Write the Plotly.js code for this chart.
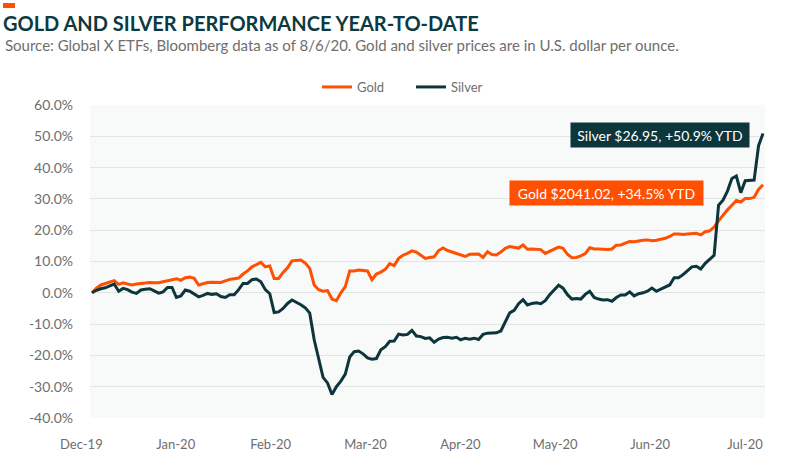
<!DOCTYPE html>
<html>
<head>
<meta charset="utf-8">
<script src="https://cdn.plot.ly/plotly-3.0.1.min.js"></script>
<style>html,body{margin:0;padding:0;background:#fff;}#chart{width:800px;height:465px;}</style>
</head>
<body>
<div id="chart"></div>
<script>
// Year-to-date % change, one value per trading day (Dec 31 2019 .. Aug 6 2020)
const gold = [
  0, 1.5, 2.5, 3.0, 3.5, 3.9, 2.7, 3.2, 2.8, 2.5,
  2.8, 3.0, 3.2, 3.3, 3.2, 3.2, 3.5, 3.9, 4.3, 4.5,
  4.0, 4.8, 5.0, 4.6, 2.5, 3.0, 3.3, 3.4, 3.4, 3.3,
  3.8, 4.3, 4.5, 4.7, 6.0, 7.0, 8.3, 9.0, 9.7, 8.3,
  8.6, 4.6, 4.6, 6.5, 8.0, 10.2, 10.4, 10.5, 9.5, 7.8,
  2.5, 1.0, 0.5, 0.7, -2.0, -2.5, 0.0, 2.0, 7.0, 7.0,
  7.3, 7.2, 7.0, 4.2, 6.0, 6.6, 7.5, 9.3, 8.7, 11.0,
  12.0, 12.6, 13.4, 13.0, 12.0, 11.0, 11.3, 11.5, 13.5, 14.3,
  13.5, 13.0, 12.7, 12.0, 11.6, 12.3, 12.4, 12.4, 11.3, 13.1,
  12.2, 12.1, 13.0, 14.2, 14.8, 14.5, 14.3, 15.3, 13.9, 14.0,
  13.9, 13.8, 12.6, 13.3, 14.0, 14.6, 14.2, 12.3, 11.2, 11.3,
  11.8, 12.5, 14.4, 14.0, 14.0, 13.8, 13.8, 14.0, 15.2, 15.3,
  15.9, 16.4, 16.3, 16.6, 16.8, 16.9, 16.6, 16.8, 17.1, 17.4,
  18.0, 18.8, 18.8, 18.6, 18.8, 18.9, 19.0, 18.5, 19.5, 19.8,
  21.0, 23.0, 24.8, 26.5, 28.0, 29.5, 29.0, 30.1, 30.1, 30.5,
  33.0, 34.5
];
const silver = [
  0, 0.8, 1.3, 1.6, 2.2, 2.8, 0.5, 1.4, 1.0, 0.2,
  -0.2, 0.9, 1.1, 1.3, 0.6, -0.1, 0.3, 1.7, 1.7, -1.5,
  -1.0, 0.9, 0.5, -0.5, -1.3, -0.8, -0.2, -0.5, -0.3, -1.2,
  -1.5, -0.6, -0.6, 1.0, 3.0, 3.0, 4.2, 4.4, 3.5, 1.0,
  -0.3, -6.3, -6.1, -5.0, -3.4, -2.3, -3.0, -3.8, -4.8, -6.5,
  -15.0, -21.0, -27.0, -28.8, -32.5, -30.0, -28.2, -26.0, -20.5, -18.8,
  -18.6, -19.5, -20.8, -21.2, -21.0, -18.2, -17.2, -15.5, -15.4, -13.2,
  -13.5, -13.3, -12.0, -13.8, -14.0, -14.6, -14.4, -15.8, -14.8, -14.3,
  -14.2, -14.5, -14.2, -15.0, -14.5, -14.8, -14.5, -14.9, -13.3, -12.9,
  -12.8, -12.8, -12.2, -9.5, -6.4, -5.6, -3.5, -2.2, -3.9, -3.4,
  -3.2, -3.5, -2.5, -0.6, 1.0, 2.4, 1.5, -0.6, -2.0, -1.8,
  -2.0, -0.5, 0.5, -1.5, -2.0, -2.3, -2.2, -2.7, -1.5, -0.7,
  -0.7, 0.3, -1.0, -0.3, 0.0, 0.5, 1.5, 0.5, 1.2, 1.8,
  2.5, 4.8, 4.8, 5.8, 7.0, 8.3, 8.5, 7.6, 9.4, 10.8,
  12.0, 28.0, 29.6, 32.5, 36.5, 37.3, 32.0, 35.8, 35.9, 36.0,
  47.0, 50.9
];
const xLabels = ["Dec-19", "Jan-20", "Feb-20", "Mar-20", "Apr-20", "May-20", "Jun-20", "Jul-20"];
const yTicks = [-40, -30, -20, -10, 0, 10, 20, 30, 40, 50, 60];
const seriesNames = ["Gold", "Silver"];
const goldLabel = "Gold $2041.02, +34.5% YTD";
const silverLabel = "Silver $26.95, +50.9% YTD";
const titleText = "GOLD AND SILVER PERFORMANCE YEAR-TO-DATE";
const subtitleText = "Source: Global X ETFs, Bloomberg data as of 8/6/20. Gold and silver prices are in U.S. dollar per ounce.";

const GOLD_C = "#ff4f00";
const SILVER_C = "#0c363b";
const FONT = "Lato, 'Open Sans', sans-serif";
const idx = gold.map((_, i) => i);

// plot-area geometry (pixels)
const L = 90, R = 35, T = 105, B = 47, W = 800, H = 465;
const pw = W - L - R, ph = H - T - B;
const px2paperX = p => (p - L) / pw;
const py2paperY = p => (H - B - p) / ph;

const labelStep = 21.35, labelStart = -2.5;
const tickvals = [], ticktext = [];
xLabels.forEach((t, k) => { if (k > 0) { tickvals.push(labelStart + k * labelStep); ticktext.push(t); } });

const traces = [
  {x: idx, y: gold, name: seriesNames[0], type: "scatter", mode: "lines",
   line: {color: GOLD_C, width: 3}},
  {x: idx, y: silver, name: seriesNames[1], type: "scatter", mode: "lines",
   line: {color: SILVER_C, width: 3}}
];

const layout = {
  width: W, height: H,
  margin: {l: L, r: R, t: T, b: B, pad: 0},
  paper_bgcolor: "#ffffff",
  plot_bgcolor: "#f8f9f9",
  font: {family: FONT, color: "#6e6e6e", size: 13},
  title: {text: "<b>" + titleText + "</b>", xref: "container", yref: "container",
          x: 3 / W, xanchor: "left", y: 1 - 24 / H, yanchor: "middle",
          font: {family: FONT, size: 20, color: "#0d3a40"}},
  showlegend: true,
  legend: {orientation: "h", xref: "paper", yref: "paper",
           x: px2paperX(317), xanchor: "left", y: py2paperY(87), yanchor: "middle",
           font: {family: FONT, size: 13, color: "#6e6e6e"}, bgcolor: "rgba(0,0,0,0)",
           entrywidth: 49, entrywidthmode: "pixels"},
  xaxis: {range: [-0.45, gold.length - 1 + 0.45], showgrid: false, zeroline: false,
          showline: false, ticks: "", tickmode: "array", tickvals: tickvals, ticktext: ticktext,
          tickfont: {family: FONT, size: 13, color: "#6e6e6e"}, ticklabelstandoff: 17,
          fixedrange: true},
  yaxis: {range: [-40, 60], showgrid: true, gridcolor: "#e3e5e5", gridwidth: 1,
          zeroline: false, showline: false, ticks: "", tickmode: "array",
          tickvals: yTicks, ticktext: yTicks.map(v => v.toFixed(1) + "%"),
          tickfont: {family: FONT, size: 14, color: "#6e6e6e"}, ticklabelstandoff: 16,
          fixedrange: true},
  shapes: [
    {type: "rect", xref: "paper", yref: "paper",
     x0: px2paperX(3), x1: px2paperX(15), y0: py2paperY(8), y1: py2paperY(3),
     fillcolor: GOLD_C, line: {width: 0}}
  ],
  annotations: [
    {text: subtitleText, xref: "paper", yref: "paper", x: px2paperX(3), y: py2paperY(45),
     xanchor: "left", yanchor: "middle", showarrow: false,
     font: {family: FONT, size: 15, color: "#6e6e6e"}},
    {text: xLabels[0], xref: "paper", yref: "paper", x: px2paperX(81), y: py2paperY(444),
     xanchor: "center", yanchor: "middle", showarrow: false,
     font: {family: FONT, size: 13, color: "#6e6e6e"}},
    {text: silverLabel, xref: "paper", yref: "paper", x: px2paperX(660), y: py2paperY(135),
     xanchor: "center", yanchor: "middle", showarrow: false, bgcolor: SILVER_C,
     width: 174, height: 20, borderpad: 2, font: {family: FONT, size: 14, color: "#ffffff"}},
    {text: goldLabel, xref: "paper", yref: "paper", x: px2paperX(606.5), y: py2paperY(193),
     xanchor: "center", yanchor: "middle", showarrow: false, bgcolor: GOLD_C,
     width: 189, height: 20, borderpad: 2, font: {family: FONT, size: 14, color: "#ffffff"}}
  ]
};

Plotly.newPlot("chart", traces, layout, {displayModeBar: false, staticPlot: true});
</script>
</body>
</html>
